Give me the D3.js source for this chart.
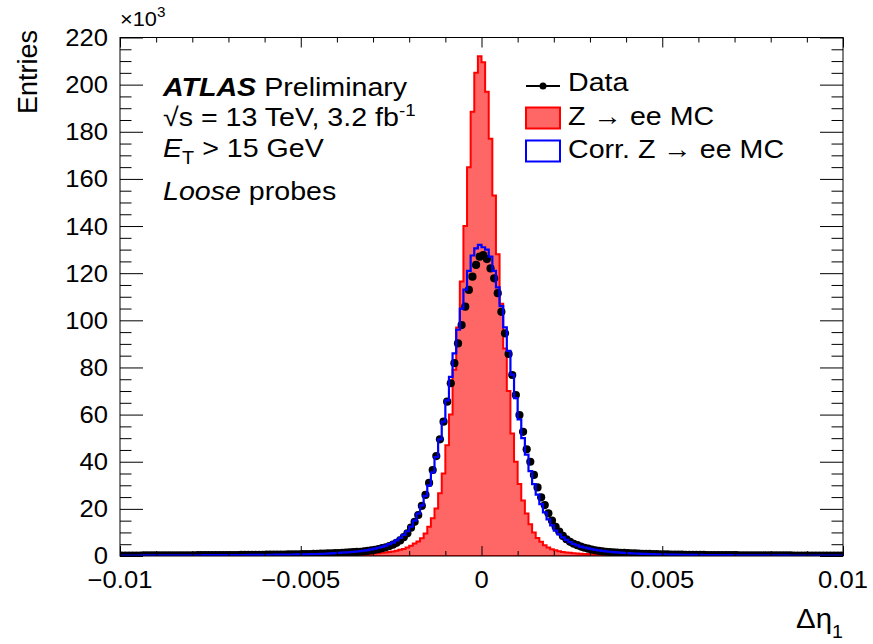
<!DOCTYPE html>
<html><head><meta charset="utf-8">
<script src="https://cdn.jsdelivr.net/npm/d3@7"></script>
<style>
body{margin:0;background:#fff}
text{font-family:"Liberation Sans",Arial,Helvetica,sans-serif;fill:#000}
</style>
</head><body>
<svg id="c" width="873" height="644"></svg>
<script>
// ---------------- data (entries in units of 10^3) ----------------
const xMin = -0.01, xMax = 0.01, binWidth = 0.0001;
const binEdges = d3.range(200).map(i => +(xMin + i * binWidth).toFixed(6)); // lower edge of each bin

const xTicks = [-0.01, -0.005, 0, 0.005, 0.01];
const xTickLabels = ["\u22120.01", "\u22120.005", "0", "0.005", "0.01"];
const yTicks = [0, 20, 40, 60, 80, 100, 120, 140, 160, 180, 200, 220];
const yTickLabels = ["0", "20", "40", "60", "80", "100", "120", "140", "160", "180", "200", "220"];

// Z -> ee MC
const mcValues = [
  0.08,0.08,0.09,0.09,0.09,0.1,0.1,0.1,0.11,0.11,
  0.11,0.12,0.12,0.13,0.13,0.14,0.14,0.15,0.15,0.16,
  0.16,0.17,0.17,0.18,0.18,0.19,0.2,0.2,0.21,0.22,
  0.22,0.23,0.24,0.24,0.25,0.26,0.26,0.27,0.28,0.29,
  0.3,0.31,0.32,0.33,0.34,0.35,0.37,0.38,0.4,0.41,
  0.43,0.44,0.45,0.46,0.47,0.48,0.49,0.5,0.51,0.53,
  0.55,0.58,0.61,0.64,0.68,0.72,0.77,0.83,0.9,0.98,
  1.1,1.2,1.35,1.5,1.7,1.9,2.2,2.6,3.0,3.6,
  4.3,5.3,6.2,7.5,9.6,12.4,16,20.2,26.6,35,
  47,60,79,97,116.5,140,165,188.5,205,212,
  209.5,197,177,153,128,107,88,70,52,40,
  30.5,23.5,18,13.5,10,7.6,6,4.6,3.6,2.9,
  2.4,2.0,1.7,1.5,1.33,1.2,1.08,0.98,0.9,0.83,
  0.77,0.72,0.67,0.63,0.59,0.56,0.53,0.5,0.48,0.46,
  0.44,0.42,0.4,0.39,0.37,0.36,0.34,0.33,0.32,0.31,
  0.3,0.29,0.28,0.27,0.26,0.25,0.24,0.23,0.22,0.21,
  0.2,0.2,0.19,0.18,0.18,0.17,0.16,0.16,0.15,0.15,
  0.14,0.14,0.13,0.13,0.12,0.12,0.12,0.11,0.11,0.11,
  0.1,0.1,0.1,0.09,0.09,0.09,0.09,0.08,0.08,0.08,
  0.08,0.08,0.07,0.07,0.07,0.07,0.07,0.07,0.06,0.06
];

// Corr. Z -> ee MC
const corrValues = [
  0.2,0.2,0.21,0.21,0.22,0.22,0.23,0.23,0.24,0.24,
  0.25,0.25,0.26,0.26,0.27,0.27,0.28,0.29,0.29,0.3,
  0.31,0.31,0.32,0.33,0.34,0.34,0.35,0.36,0.37,0.38,
  0.39,0.4,0.41,0.42,0.43,0.44,0.45,0.47,0.48,0.5,
  0.51,0.53,0.54,0.56,0.58,0.6,0.62,0.64,0.66,0.68,
  0.7,0.73,0.76,0.8,0.84,0.89,0.95,1.02,1.1,1.2,
  1.3,1.4,1.5,1.6,1.75,1.9,2.1,2.3,2.5,2.8,
  3.1,3.5,3.9,4.4,5.0,5.7,6.6,7.7,9.0,10.5,
  12.5,15,18,21.5,25.5,30,35.5,42,49.5,57,
  66,76,86,96,105,113,121,127.5,130.5,132,
  131,130,127,121,114,106,97,87,77,67,
  58,50,43,36,30.5,26,22,18.5,15.5,13,
  10.8,9.2,7.9,6.8,5.9,5.1,4.5,4.0,3.6,3.2,
  2.9,2.6,2.35,2.15,1.95,1.8,1.65,1.52,1.42,1.32,
  1.23,1.14,1.06,0.99,0.93,0.87,0.82,0.77,0.73,0.69,
  0.66,0.63,0.6,0.57,0.55,0.53,0.51,0.49,0.47,0.45,
  0.44,0.42,0.41,0.39,0.38,0.37,0.36,0.35,0.34,0.33,
  0.32,0.31,0.3,0.3,0.29,0.28,0.27,0.27,0.26,0.25,
  0.25,0.24,0.24,0.23,0.23,0.22,0.22,0.21,0.21,0.2,
  0.2,0.2,0.19,0.19,0.18,0.18,0.18,0.17,0.17,0.17
];

// Data
const dataValues = [
  0.2,0.2,0.21,0.21,0.22,0.22,0.23,0.23,0.24,0.25,
  0.25,0.26,0.26,0.27,0.28,0.28,0.29,0.3,0.31,0.31,
  0.32,0.33,0.34,0.35,0.35,0.36,0.37,0.38,0.39,0.4,
  0.41,0.42,0.43,0.45,0.46,0.47,0.49,0.5,0.52,0.53,
  0.55,0.57,0.58,0.6,0.62,0.64,0.66,0.69,0.71,0.74,
  0.77,0.8,0.84,0.88,0.92,0.97,1.02,1.08,1.15,1.22,
  1.25,1.33,1.42,1.52,1.63,1.72,1.8,1.95,2.15,2.35,
  2.6,2.9,3.3,3.7,4.2,4.8,5.6,6.6,8.0,9.6,
  12,14.5,17.4,21.3,25.9,31,36.5,42.4,49.5,57,
  65.5,73.3,81.8,90.2,98,105.8,112.9,118.5,123.5,127,
  127.7,126,122,117.8,111.5,103.6,94.5,85.7,76.8,68.3,
  59.8,52.7,45.3,40,34.4,29.1,24.9,21.6,18.1,15,
  12.4,10.4,8.5,7.1,6.0,5.2,4.6,4.0,3.5,3.1,
  2.7,2.4,2.15,1.95,1.8,1.68,1.57,1.47,1.38,1.3,
  1.22,1.15,1.08,1.02,0.96,0.91,0.86,0.82,0.78,0.74,
  0.7,0.67,0.64,0.61,0.58,0.56,0.54,0.52,0.5,0.48,
  0.46,0.44,0.43,0.41,0.4,0.39,0.37,0.36,0.35,0.34,
  0.33,0.32,0.31,0.3,0.3,0.29,0.28,0.27,0.27,0.26,
  0.25,0.25,0.24,0.24,0.23,0.23,0.22,0.22,0.21,0.21,
  0.2,0.2,0.2,0.19,0.19,0.19,0.18,0.18,0.18,0.18
];

const legendLabels = ["Data", "Z \u2192 ee MC", "Corr. Z \u2192 ee MC"];

// ---------------- layout ----------------
const L = 120, R = 843, T = 37.5, B = 556;
const SX = 1.09; // horizontal text stretch of the original rendering
const svg = d3.select("#c");
const x = d3.scaleLinear().domain([xMin, xMax]).range([L, R]);
const y = d3.scaleLinear().domain([0, 220]).range([B, T]);

svg.append("defs").append("clipPath").attr("id", "frame")
  .append("rect").attr("x", L).attr("y", T).attr("width", R - L).attr("height", B - T);

const plot = svg.append("g").attr("clip-path", "url(#frame)");

function stepPoints(vals) {
  const pts = [[x(xMin), y(0)]];
  vals.forEach((v, i) => {
    const lo = binEdges[i], hi = lo + binWidth;
    pts.push([x(lo), y(v)], [x(hi), y(v)]);
  });
  pts.push([x(xMax), y(0)]);
  return pts;
}
const line = d3.line();

plot.append("path").attr("d", line(stepPoints(mcValues)) + "Z")
  .attr("fill", "#ff6666").attr("stroke", "#ff0000").attr("stroke-width", 2).attr("stroke-linejoin", "miter");
plot.selectAll("circle.data").data(dataValues).join("circle").attr("class", "data")
  .attr("cx", (d, i) => x(binEdges[i] + binWidth / 2)).attr("cy", d => y(d))
  .attr("r", 4.1).attr("fill", "#000");
plot.append("path").attr("d", line(stepPoints(corrValues)))
  .attr("fill", "none").attr("stroke", "#0000ff").attr("stroke-width", 2.2);

// ---------------- axes (ticks inside) ----------------
const xMinor = d3.range(-10, 11).map(k => k / 1000).filter(v => !xTicks.some(t => Math.abs(t - v) < 1e-9));
const yMinor = d3.range(0, 221, 5).filter(v => v % 20 !== 0);

function tickAxis(axisFn, scale, vals, size, tx, ty) {
  const g = svg.append("g").attr("transform", `translate(${tx},${ty})`)
    .call(axisFn(scale).tickValues(vals).tickSize(size).tickFormat(""));
  g.select(".domain").remove();
  g.selectAll("line").attr("stroke", "#000").attr("stroke-width", 1);
}
tickAxis(d3.axisBottom, x, xTicks, -10, 0, B);
tickAxis(d3.axisBottom, x, xMinor, -5, 0, B);
tickAxis(d3.axisTop, x, xTicks, -10, 0, T);
tickAxis(d3.axisTop, x, xMinor, -5, 0, T);
tickAxis(d3.axisLeft, y, yTicks, -23, L, 0);
tickAxis(d3.axisLeft, y, yMinor, -11.5, L, 0);
tickAxis(d3.axisRight, y, yTicks, -23, R, 0);
tickAxis(d3.axisRight, y, yMinor, -11.5, R, 0);

svg.append("rect").attr("x", L).attr("y", T).attr("width", R - L).attr("height", B - T)
  .attr("fill", "none").attr("stroke", "#000").attr("stroke-width", 1);

// tick labels
svg.append("g").selectAll("text").data(yTicks).join("text")
  .attr("transform", d => `translate(108,${y(d)}) scale(${SX},1)`)
  .attr("text-anchor", "end").attr("dy", "0.36em").attr("font-size", 23.5)
  .text((d, i) => yTickLabels[i]);
svg.append("g").selectAll("text").data(xTicks).join("text")
  .attr("transform", d => `translate(${x(d)},588) scale(${SX},1)`)
  .attr("text-anchor", "middle").attr("font-size", 23.5)
  .text((d, i) => xTickLabels[i]);

// exponent
const ex = svg.append("text").attr("transform", `translate(120,26) scale(${SX},1)`).attr("font-size", 20);
ex.append("tspan").text("\u00d710");
ex.append("tspan").attr("font-size", 14).attr("dy", -9).text("3");

// axis titles
svg.append("text").attr("transform", "translate(37,30) rotate(-90)")
  .attr("text-anchor", "end").attr("font-size", 27).text("Entries");
const xt = svg.append("text").attr("transform", `translate(843,628) scale(${SX},1)`)
  .attr("text-anchor", "end").attr("font-size", 27);
xt.append("tspan").text("\u0394\u03b7");
xt.append("tspan").attr("font-size", 18).attr("dy", 10).text("1");

// ATLAS label block
function textLine(px, py) {
  return svg.append("text").attr("transform", `translate(${px},${py}) scale(1.1,1)`).attr("font-size", 26);
}
const l1 = textLine(163, 95.5);
l1.append("tspan").attr("font-weight", "bold").attr("font-style", "italic").text("ATLAS");
l1.append("tspan").text(" Preliminary");
const l2 = textLine(163, 126);
l2.append("tspan").text("\u221as = 13 TeV, 3.2 fb");
l2.append("tspan").attr("font-size", 17).attr("dy", -10).text("-1");
const l3 = textLine(163, 157);
l3.append("tspan").attr("font-style", "italic").text("E");
l3.append("tspan").attr("font-size", 18).attr("dy", 7).text("T");
l3.append("tspan").attr("dy", -7).text(" > 15 GeV");
const l4 = textLine(163, 200);
l4.append("tspan").attr("font-style", "italic").text("Loose");
l4.append("tspan").text(" probes");

// legend
const lg = svg.append("g");
lg.append("line").attr("x1", 526).attr("x2", 560).attr("y1", 86).attr("y2", 86)
  .attr("stroke", "#000").attr("stroke-width", 2);
lg.append("circle").attr("cx", 543).attr("cy", 86).attr("r", 3.5).attr("fill", "#000");
lg.append("rect").attr("x", 526).attr("y", 107.5).attr("width", 34).attr("height", 21)
  .attr("fill", "#ff6666").attr("stroke", "#ff0000").attr("stroke-width", 2);
lg.append("rect").attr("x", 526).attr("y", 140.5).attr("width", 34).attr("height", 21)
  .attr("fill", "#fff").attr("stroke", "#0000ff").attr("stroke-width", 2);
[91, 124.5, 157.5].forEach((py, i) => {
  lg.append("text").attr("transform", `translate(568,${py}) scale(1.1,1)`).attr("font-size", 26).text(legendLabels[i]);
});
</script>
</body></html>
